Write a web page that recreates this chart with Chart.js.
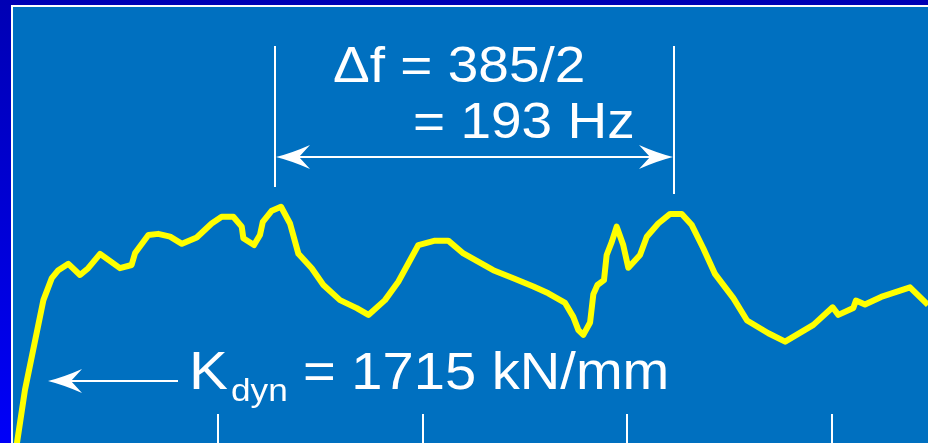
<!DOCTYPE html>
<html>
<head>
<meta charset="utf-8">
<script src="https://cdn.jsdelivr.net/npm/chart.js@4.4.1/dist/chart.umd.min.js"></script>
<style>
  html, body { margin: 0; padding: 0; }
  body {
    width: 928px;
    height: 443px;
    overflow: hidden;
    position: relative;
    background: linear-gradient(#0000b4, #0000f8);
  }
  .frame {
    position: absolute;
    left: 11px;
    top: 5px;
    right: 0;
    bottom: 0;
    border-left: 2px solid #fff;
    border-top: 2px solid #fff;
    background: #0070c0;
  }
  #chart { position: absolute; left: 0; top: 0; }
</style>
</head>
<body>
<div class="frame"></div>
<canvas id="chart" width="928" height="443"></canvas>
<script>
// frequence (Hz) et amplitude de la reponse mesuree
const freqHz = [
  1.2, 5.7, 14.7, 18.8, 22.0, 26.9, 32.6, 36.6, 42.4, 52.1,
  57.8, 59.5, 66.0, 70.8, 76.6, 82.4, 89.6, 96.9, 101.8, 107.5,
  111.6, 112.4, 117.6, 120.5, 121.9, 126.3, 130.8, 135.2, 139.3, 145.8,
  151.5, 159.6, 167.8, 173.5, 181.6, 188.1, 197.9, 206.0, 212.5, 219.9,
  234.5, 244.3, 254.1, 261.4, 269.6, 273.6, 276.1, 278.5, 281.8, 283.4,
  285.4, 288.6, 289.9, 292.4, 294.8, 298.0, 300.5, 306.2, 309.5, 315.1,
  320.9, 326.6, 331.5, 337.1, 342.9, 351.8, 358.5, 368.9, 377.1, 390.9,
  400.3, 403.1, 410.4, 411.7, 416.1, 424.0, 438.1, 446.9, 455.2
]
const response = [
  -2.0, 13.3, 35.8, 41.3, 43.3, 44.9, 42.1, 43.8, 47.4, 43.8,
  44.6, 47.6, 52.1, 52.4, 51.7, 49.9, 51.5, 55.0, 56.7, 56.7,
  54.2, 51.3, 49.6, 52.1, 55.4, 58.2, 59.2, 55.0, 47.4, 43.8,
  39.6, 35.8, 33.8, 32.1, 35.8, 40.4, 49.6, 50.7, 50.7, 47.5,
  43.3, 41.3, 39.2, 37.5, 35.1, 31.6, 28.3, 27.1, 30.2, 37.3,
  39.6, 40.8, 47.1, 50.4, 54.2, 49.6, 43.9, 47.1, 51.7, 55.0,
  57.4, 57.4, 54.6, 48.8, 42.3, 36.3, 30.7, 27.5, 25.4, 29.6,
  34.0, 32.1, 33.8, 35.7, 34.7, 36.6, 39.0, 34.6, 30.3
]

// reperes de l'ecart entre les deux pics, graduations du bas
const markerHz = [128.0, 322.6]
const tickHz = [100, 200, 300, 400]
const deltaLines = ["\u0394f = 385/2", "= 193 Hz"]
const kdynLabel = { main: "K", sub: "dyn", rest: "= 1715 kN/mm" }

const FONT = '"Liberation Sans", Arial, sans-serif'

const drawText = (ctx, text, x, y, size) => {
  ctx.save()
  ctx.translate(x, y)
  ctx.scale(1.1, 1)
  ctx.font = `${size}px ${FONT}`
  ctx.fillText(text, 0, 0)
  ctx.restore()
}

const drawHead = (ctx, tipX, tipY, dir) => {
  ctx.beginPath()
  ctx.moveTo(tipX, tipY)
  ctx.quadraticCurveTo(tipX + dir * 16, tipY - 4, tipX + dir * 34, tipY - 12)
  ctx.lineTo(tipX + dir * 23, tipY)
  ctx.lineTo(tipX + dir * 34, tipY + 12)
  ctx.quadraticCurveTo(tipX + dir * 16, tipY + 4, tipX, tipY)
  ctx.closePath()
  ctx.fill()
}

const vline = (ctx, x, y0, y1) => {
  ctx.beginPath()
  ctx.moveTo(x, y0)
  ctx.lineTo(x, y1)
  ctx.stroke()
}

const annotations = {
  id: "annotations",
  afterDatasetsDraw(chart) {
    const { ctx, scales: { x } } = chart
    ctx.save()
    ctx.strokeStyle = "#fff"
    ctx.fillStyle = "#fff"
    ctx.lineWidth = 2
    ctx.textBaseline = "alphabetic"

    // graduations
    tickHz.forEach((f) => {
      const px = Math.round(x.getPixelForValue(f))
      vline(ctx, px, 414, 443)
    })

    // ecart entre les pics
    const xl = Math.round(x.getPixelForValue(markerHz[0]))
    const xr = Math.round(x.getPixelForValue(markerHz[1]))
    vline(ctx, xl, 46, 187)
    vline(ctx, xr, 46, 194)
    ctx.beginPath()
    ctx.moveTo(xl + 10, 157)
    ctx.lineTo(xr - 10, 157)
    ctx.stroke()
    drawHead(ctx, xl + 1, 157, 1)
    drawHead(ctx, xr - 1, 157, -1)

    drawText(ctx, deltaLines[0], 333, 82, 50)
    drawText(ctx, deltaLines[1], 413, 138, 50)

    // raideur dynamique
    ctx.beginPath()
    ctx.moveTo(60, 381)
    ctx.lineTo(178, 381)
    ctx.stroke()
    drawHead(ctx, 48, 381, 1)
    drawText(ctx, kdynLabel.main, 189, 389, 53)
    drawText(ctx, kdynLabel.sub, 231, 401, 32)
    drawText(ctx, kdynLabel.rest, 303, 389, 51)
    ctx.restore()
  },
}

new Chart(document.getElementById("chart"), {
  type: "line",
  data: {
    datasets: [
      {
        data: freqHz.map((f, i) => ({ x: f, y: response[i] })),
        borderColor: "#ffff00",
        borderWidth: 6,
        borderJoinStyle: "round",
        pointRadius: 0,
        tension: 0,
        fill: false,
      },
    ],
  },
  options: {
    responsive: false,
    animation: false,
    layout: { padding: 0 },
    plugins: {
      legend: { display: false },
      tooltip: { enabled: false },
    },
    scales: {
      x: { type: "linear", min: -6.5, max: 446.9, display: false },
      y: { min: 0, max: 111, display: false },
    },
  },
  plugins: [annotations],
})
</script>
</body>
</html>
